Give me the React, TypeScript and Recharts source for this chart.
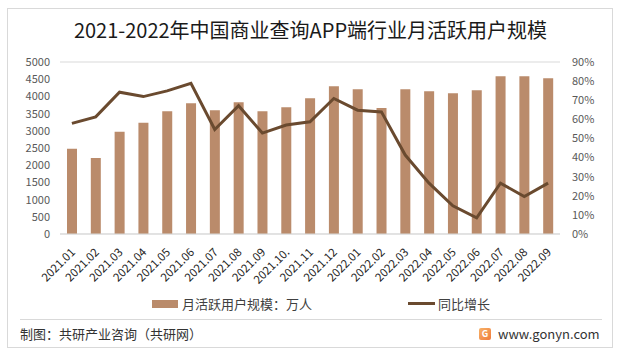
import { ComposedChart, Bar, Line, XAxis, YAxis, CartesianGrid } from 'recharts';

const months = [
  '2021.01', '2021.02', '2021.03', '2021.04', '2021.05', '2021.06', '2021.07',
  '2021.08', '2021.09', '2021.10.', '2021.11', '2021.12', '2022.01', '2022.02',
  '2022.03', '2022.04', '2022.05', '2022.06', '2022.07', '2022.08', '2022.09',
];
// 月活跃用户规模（万人）
const users = [
  2480, 2210, 2975, 3235, 3570, 3800, 3600, 3830, 3570, 3685, 3945,
  4295, 4210, 3660, 4210, 4150, 4095, 4180, 4585, 4585, 4530,
];
// 同比增长（%）
const growth = [
  57.9, 61.3, 74.2, 71.9, 74.9, 78.9, 54.7, 67.1, 52.8, 57.0, 58.7,
  70.9, 64.8, 63.9, 41.3, 26.6, 14.8, 8.5, 26.6, 19.6, 26.6,
];
const userTicks = [0, 500, 1000, 1500, 2000, 2500, 3000, 3500, 4000, 4500, 5000];
const growthTicks = [0, 10, 20, 30, 40, 50, 60, 70, 80, 90];

const data = months.map((m, i) => ({ month: m, users: users[i], growth: growth[i] }));

const FONT = '"Noto Sans CJK SC", "Noto Sans", sans-serif';
const BAR_COLOR = '#BA8B6B';
const LINE_COLOR = '#6A4A2F';

function MonthTick({ x, y, payload }: any) {
  const tx = x + 4;
  const ty = y + 19;
  return (
    <text
      x={tx}
      y={ty}
      transform={`rotate(-45 ${tx} ${ty})`}
      textAnchor="end"
      fontSize={11.5}
      fontFamily={FONT}
      fill="#262626"
    >
      {payload.value}
    </text>
  );
}

export default function App() {
  return (
    <div style={{ position: 'absolute', left: 0, top: 0, width: 621, height: 354, background: '#fff', fontFamily: FONT }}>
      <div style={{ position: 'absolute', left: 7, top: 8, width: 606, height: 340, border: '1px solid #d9d9d9', boxSizing: 'border-box' }} />
      <div style={{ position: 'absolute', left: 0, top: 16, width: 621, textAlign: 'center', fontSize: 20, color: '#1a1a1a', lineHeight: '28px' }}>
        2021-2022年中国商业查询APP端行业月活跃用户规模
      </div>

      <div style={{ position: 'absolute', left: 0, top: 0 }}>
        <ComposedChart width={621} height={354} data={data} margin={{ top: 62, right: 0, bottom: 60, left: 0 }}>
          <CartesianGrid vertical={false} stroke="#d9d9d9" />
          <XAxis
            dataKey="month"
            interval={0}
            height={60}
            tickLine={false}
            tickSize={0}
            tickMargin={0}
            axisLine={{ stroke: '#d9d9d9' }}
            tick={<MonthTick />}
          />
          <YAxis
            yAxisId="left"
            domain={[0, 5000]}
            ticks={userTicks}
            width={60}
            axisLine={false}
            tickLine={false}
            tickSize={0}
            tickMargin={10}
            tick={{ fontSize: 11, fill: '#595959', fontFamily: FONT }}
          />
          <YAxis
            yAxisId="right"
            orientation="right"
            domain={[0, 90]}
            ticks={growthTicks}
            width={61}
            axisLine={false}
            tickLine={false}
            tickSize={0}
            tickMargin={12}
            tickFormatter={(v: number) => `${v}%`}
            tick={{ fontSize: 11, fill: '#595959', fontFamily: FONT }}
          />
          <Bar yAxisId="left" dataKey="users" fill={BAR_COLOR} barSize={10} isAnimationActive={false} />
          <Line
            yAxisId="right"
            type="linear"
            dataKey="growth"
            stroke={LINE_COLOR}
            strokeWidth={3}
            dot={false}
            isAnimationActive={false}
          />
        </ComposedChart>
      </div>

      {/* legend */}
      <div style={{ position: 'absolute', left: 152, top: 294, display: 'flex', alignItems: 'center', fontSize: 13, color: '#404040' }}>
        <span style={{ display: 'inline-block', width: 26, height: 8, background: BAR_COLOR, marginRight: 4 }} />
        <span>月活跃用户规模：万人</span>
      </div>
      <div style={{ position: 'absolute', left: 408, top: 294, display: 'flex', alignItems: 'center', fontSize: 13, color: '#404040' }}>
        <span style={{ display: 'inline-block', width: 27, height: 3, background: LINE_COLOR, marginRight: 3 }} />
        <span>同比增长</span>
      </div>

      {/* footer */}
      <div style={{ position: 'absolute', left: 20, top: 319, width: 582, height: 1, background: '#d9d9d9' }} />
      <div style={{ position: 'absolute', left: 20, top: 325, fontSize: 13, color: '#333', lineHeight: '18px' }}>
        制图：共研产业咨询（共研网）
      </div>
      <div style={{ position: 'absolute', left: 479, top: 325, display: 'flex', alignItems: 'center', fontSize: 13, color: '#333', lineHeight: '18px' }}>
        <span style={{ display: 'inline-block', width: 12, height: 12, borderRadius: 2, background: 'linear-gradient(135deg, #f7b267, #f07a3c)', color: '#fff', fontSize: 9, lineHeight: '12px', textAlign: 'center', marginRight: 7, fontWeight: 700 }}>G</span>
        <span>www.gonyn.com</span>
      </div>
    </div>
  );
}
